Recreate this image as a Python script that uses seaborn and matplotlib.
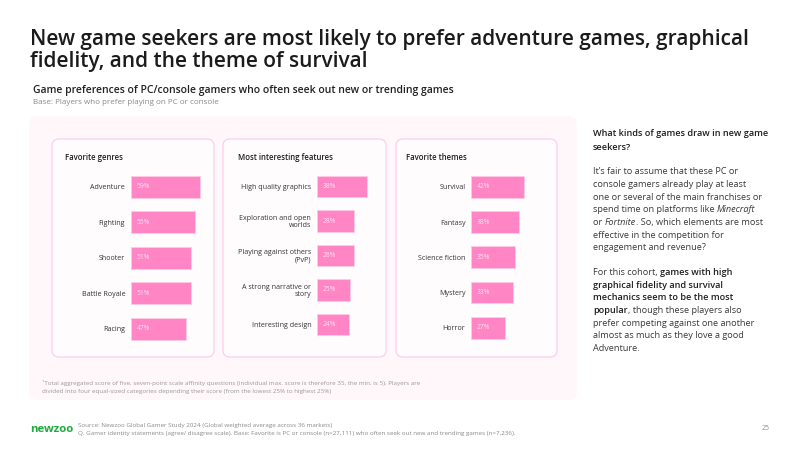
import matplotlib
matplotlib.use("Agg")
import matplotlib.pyplot as plt
import seaborn as sns
import pandas as pd
from matplotlib.patches import FancyBboxPatch

# ---------------- data ----------------
genres = ["Adventure", "Fighting", "Shooter", "Battle Royale", "Racing"]
genre_values = [59, 55, 51, 51, 47]
features = ["High quality graphics", "Exploration and open\nworlds",
            "Playing against others\n(PvP)", "A strong narrative or\nstory",
            "Interesting design"]
feature_values = [38, 28, 28, 25, 24]
themes = ["Survival", "Fantasy", "Science fiction", "Mystery", "Horror"]
theme_values = [42, 38, 35, 33, 27]
panel_titles = ["Favorite genres", "Most interesting features", "Favorite themes"]

sns.set_theme(style="white")
plt.rcParams['font.family'] = ['Open Sans', 'DejaVu Sans']

PINK = '#FF85C4'
EDGE = '#FFC9E4'
W, H = 800, 450
fig = plt.figure(figsize=(8, 4.5), dpi=100)
fig.patch.set_facecolor('white')
bg = fig.add_axes([0, 0, 1, 1])
bg.set_xlim(0, W)
bg.set_ylim(H, 0)
bg.axis('off')
renderer = fig.canvas.get_renderer()


def rbox(x0, y0, x1, y1, r, fc, ec='none', lw=0):
    bg.add_patch(FancyBboxPatch((x0, y0), x1 - x0, y1 - y0,
                                boxstyle=f"round,pad=0,rounding_size={r}",
                                fc=fc, ec=ec, lw=lw))


# backgrounds
rbox(29, 116, 577, 400, 9, '#FFF7FA')
for x0, x1 in [(52, 214), (223, 386), (396, 557)]:
    rbox(x0, 139, x1, 357, 7, '#FFFCFD', ec='#FAD0EA', lw=0.9)

# titles
bg.text(30, 40, "New game seekers are most likely to prefer adventure games, graphical",
        fontsize=15.05, fontweight='semibold', color='#1b1b1b', va='center', ha='left')
bg.text(30, 62, "fidelity, and the theme of survival",
        fontsize=15.05, fontweight='semibold', color='#1b1b1b', va='center', ha='left')
bg.text(33, 90, "Game preferences of PC/console gamers who often seek out new or trending games",
        fontsize=7.5, fontweight='semibold', color='#222222', va='center', ha='left')
bg.text(33, 103, "Base: Players who prefer playing on PC or console",
        fontsize=5.8, color='#8a8a8a', va='center', ha='left')

# panel headers
for (x, t) in zip([65, 238, 406], panel_titles):
    bg.text(x, 158, t, fontsize=5.6, fontweight='semibold', color='#1e1e1e',
            va='center', ha='left')


def panel(cats, vals, left, first_c, last_c, scale, bar_h, width_px=90):
    n = len(cats)
    step = (last_c - first_c) / (n - 1)
    top = first_c - step / 2
    bottom = last_c + step / 2
    ax = fig.add_axes([left / W, 1 - bottom / H, width_px / W, (bottom - top) / H])
    df = pd.DataFrame({'cat': cats, 'val': vals})
    sns.barplot(data=df, x='val', y='cat', orient='h', color=PINK, saturation=1,
                width=bar_h / step, edgecolor=EDGE, linewidth=0.7, ax=ax)
    ax.set_xlim(0, width_px / scale)
    ax.set_ylim(n - 0.5, -0.5)
    ax.set_xlabel('')
    ax.set_ylabel('')
    ax.set_xticks([])
    ax.tick_params(axis='y', length=0, pad=4, labelsize=5.1, labelcolor='#333333')
    for lbl in ax.get_yticklabels():
        lbl.set_linespacing(1.0)
    for s in ax.spines.values():
        s.set_visible(False)
    ax.patch.set_alpha(0)
    for i, v in enumerate(vals):
        ax.annotate(f"{v}%", xy=(0, i), xytext=(6, 0), textcoords='offset pixels',
                    va='center', ha='left', fontsize=4.9, color='#FFE3F2')
    return ax


panel(genres, genre_values, 130.7, 186.7, 328.7, 69.3 / 59, 22)
panel(features, feature_values, 316.7, 186.7, 324.3, 50.6 / 38, 21.3)
panel(themes, theme_values, 471, 186.8, 327.8, 53.3 / 42, 21.7)

# footnote
bg.text(42, 383, "¹Total aggregated score of five, seven-point scale affinity questions (individual max. score is therefore 35, the min. is 5). Players are",
        fontsize=4.5, color='#9a9a9a', va='center', ha='left')
bg.text(42, 391, "divided into four equal-sized categories depending their score (from the lowest 25% to highest 25%)",
        fontsize=4.5, color='#9a9a9a', va='center', ha='left')


# right-hand commentary
def runs(x, y, parts, size=6.55, color='#3a3a3a'):
    for txt, weight, style in parts:
        c = '#1e1e1e' if weight != 'normal' else color
        t = bg.text(x, y, txt, fontsize=size, fontweight=weight, fontstyle=style,
                    color=c, va='center', ha='left')
        bb = t.get_window_extent(renderer=renderer)
        x += bb.width


N, B, I = 'normal', 'semibold', 'italic'
lines = [
    (134, [("What kinds of games draw in new game", B, N)]),
    (148, [("seekers?", B, N)]),
    (172, [("It\u2019s fair to assume that these PC or", N, N)]),
    (184.6, [("console gamers already play at least", N, N)]),
    (197.2, [("one or several of the main franchises or", N, N)]),
    (209.8, [("spend time on platforms like ", N, N), ("Minecraft", N, I)]),
    (222.4, [("or ", N, N), ("Fortnite", N, I), (". So, which elements are most", N, N)]),
    (235, [("effective in the competition for", N, N)]),
    (247.6, [("engagement and revenue?", N, N)]),
    (272.3, [("For this cohort, ", N, N), ("games with high", B, N)]),
    (285, [("graphical fidelity and survival", B, N)]),
    (297.7, [("mechanics seem to be the most", B, N)]),
    (310.3, [("popular", B, N), (", though these players also", N, N)]),
    (323, [("prefer competing against one another", N, N)]),
    (335.7, [("almost as much as they love a good", N, N)]),
    (348.3, [("Adventure.", N, N)]),
]
for y, parts in lines:
    runs(593, y, parts)

# footer
bg.text(30, 429, "newzoo", fontsize=8.2, fontweight='bold', color='#1DAA3F',
        va='center', ha='left')
bg.text(78, 425, "Source: Newzoo Global Gamer Study 2024 (Global weighted average across 36 markets)",
        fontsize=4.5, color='#8a8a8a', va='center', ha='left')
bg.text(78, 433, "Q. Gamer identity statements (agree/ disagree scale). Base: Favorite is PC or console (n=27,111) who often seek out new and trending games (n=7,236).",
        fontsize=4.5, color='#8a8a8a', va='center', ha='left')
bg.text(770, 428, "25", fontsize=5, color='#8a8a8a', va='center', ha='right')

fig.savefig("out.png", dpi=100, facecolor='white')
